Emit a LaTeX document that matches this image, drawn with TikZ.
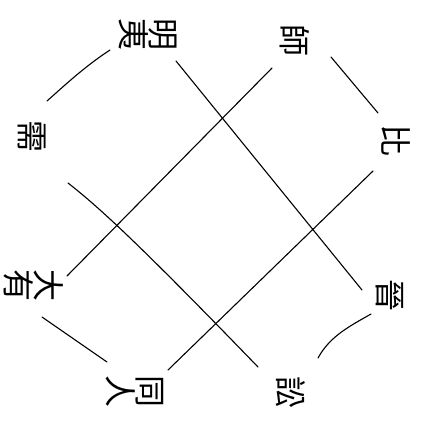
\documentclass[tikz,border=0pt]{standalone}
\usepackage{fontspec}
\newfontfamily\cjk{Noto Sans CJK TC}
\begin{document}
\begin{tikzpicture}[x=1pt,y=-1pt,
  lbl/.style={font=\cjk\fontsize{32}{30}\selectfont, inner sep=0pt, align=center, rotate=-90},
  ln/.style={line width=1.1pt, line cap=round, black}]
\useasboundingbox (0,0) rectangle (425,424);
% labels (rotated a quarter turn clockwise, as in the scan)
\node[lbl] (mingyi) at (148,34) {明\\夷};
\node[lbl] (shi) at (295,40) {師};
\node[lbl] (bi) at (396,140) {比};
\node[lbl] (jin) at (390,295) {晉};
\node[lbl] (song) at (291,392) {訟};
\node[lbl] (tongren) at (135,391) {同\\人};
\node[lbl] (dayou) at (34,285) {大\\有};
\node[lbl] (xu) at (32,136) {需};
% endpoints
\coordinate (a1) at (110,50);  \coordinate (a2) at (47,101);
\coordinate (b1) at (331,57);  \coordinate (b2) at (378,113);
\coordinate (c1) at (371,314); \coordinate (c2) at (318,358);
\coordinate (d1) at (42,317);  \coordinate (d2) at (107,362);
\coordinate (e1) at (176,61);  \coordinate (e2) at (362,290);
\coordinate (f1) at (272,68);  \coordinate (f2) at (67,276);
\coordinate (g1) at (68,183);  \coordinate (g2) at (258,367);
\coordinate (h1) at (373,171); \coordinate (h2) at (168,370);
% short links
\draw[ln] (a1) .. controls (84,67) and (64,86) .. (a2);
\draw[ln] (b1) -- (b2);
\draw[ln] (c1) .. controls (350,326) and (330,336) .. (c2);
\draw[ln] (d1) -- (d2);
% long crossing lines
\draw[ln] (e1) -- (e2);
\draw[ln] (f1) -- (f2);
\draw[ln] (g1) .. controls (100,208) and (140,245) .. (g2);
\draw[ln] (h1) -- (h2);
\end{tikzpicture}
\end{document}
